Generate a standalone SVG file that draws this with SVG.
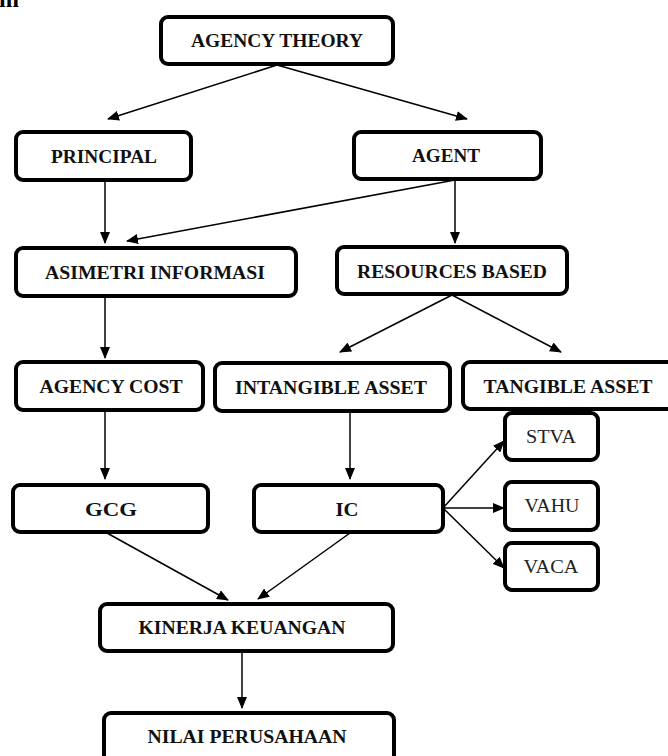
<svg xmlns="http://www.w3.org/2000/svg" width="668" height="756" viewBox="0 0 668 756">
<defs>
<style>
.box{fill:#fff;stroke:#000;stroke-width:4}
.t{font-family:"Liberation Serif","Times New Roman",serif;font-weight:bold;font-size:19px;fill:#111;text-anchor:middle}
.r{font-family:"Liberation Serif","Times New Roman",serif;font-size:18px;fill:#222;text-anchor:middle}
.c{stroke:#000;stroke-width:1.5;fill:none;marker-end:url(#ah)}
</style>
<marker id="ah" markerUnits="userSpaceOnUse" markerWidth="12" markerHeight="10" refX="11" refY="5" orient="auto">
<path d="M0,0 L12,5 L0,10 Z" fill="#000"/>
</marker>
</defs>
<rect width="668" height="756" fill="#fff"/>
<text x="-1" y="7" font-family="Liberation Serif,serif" font-weight="bold" font-size="24" fill="#000">m</text>
<g id="connectors">
<line class="c" x1="277" y1="65" x2="108" y2="119"/>
<line class="c" x1="277" y1="65" x2="467" y2="119"/>
<line class="c" x1="105" y1="180" x2="105" y2="243"/>
<line class="c" x1="455" y1="180" x2="127" y2="241"/>
<line class="c" x1="455" y1="180" x2="455" y2="243"/>
<line class="c" x1="452" y1="295" x2="340" y2="352"/>
<line class="c" x1="452" y1="295" x2="561" y2="352"/>
<line class="c" x1="105" y1="297" x2="105" y2="358"/>
<line class="c" x1="105" y1="411" x2="105" y2="479"/>
<line class="c" x1="350" y1="412" x2="350" y2="479"/>
<line class="c" x1="443" y1="508" x2="504" y2="441"/>
<line class="c" x1="443" y1="508" x2="504" y2="508"/>
<line class="c" x1="443" y1="508" x2="504" y2="568"/>
<line class="c" x1="107" y1="533" x2="228" y2="600"/>
<line class="c" x1="350" y1="533" x2="258" y2="599"/>
<line class="c" x1="242" y1="652" x2="242" y2="708"/>
</g>
<g id="agency-theory"><rect class="box" x="161" y="17" width="232" height="47" rx="7"/><text class="t" x="277" y="47" textLength="172" lengthAdjust="spacingAndGlyphs">AGENCY THEORY</text></g>
<g id="principal"><rect class="box" x="16" y="132" width="175" height="48" rx="7"/><text class="t" x="104" y="163" textLength="106" lengthAdjust="spacingAndGlyphs">PRINCIPAL</text></g>
<g id="agent"><rect class="box" x="354" y="132" width="187" height="47" rx="7"/><text class="t" x="446" y="162" textLength="68" lengthAdjust="spacingAndGlyphs">AGENT</text></g>
<g id="asimetri"><rect class="box" x="16" y="248" width="280" height="48" rx="7"/><text class="t" x="155" y="279" textLength="220" lengthAdjust="spacingAndGlyphs">ASIMETRI INFORMASI</text></g>
<g id="resources"><rect class="box" x="337" y="247" width="230" height="47" rx="7"/><text class="t" x="452" y="278" textLength="190" lengthAdjust="spacingAndGlyphs">RESOURCES BASED</text></g>
<g id="agency-cost"><rect class="box" x="16" y="362" width="187" height="48" rx="7"/><text class="t" x="111" y="393" textLength="143" lengthAdjust="spacingAndGlyphs">AGENCY COST</text></g>
<g id="intangible"><rect class="box" x="215" y="363" width="235" height="48" rx="7"/><text class="t" x="331" y="394" textLength="192" lengthAdjust="spacingAndGlyphs">INTANGIBLE ASSET</text></g>
<g id="tangible"><rect class="box" x="463" y="362" width="215" height="47" rx="7"/><text class="t" x="568" y="393" textLength="169" lengthAdjust="spacingAndGlyphs">TANGIBLE ASSET</text></g>
<g id="gcg"><rect class="box" x="13" y="485" width="195" height="47" rx="7"/><text class="t" x="111" y="516" textLength="52" lengthAdjust="spacingAndGlyphs">GCG</text></g>
<g id="ic"><rect class="box" x="254" y="485" width="189" height="47" rx="7"/><text class="t" x="347" y="516" textLength="23" lengthAdjust="spacingAndGlyphs">IC</text></g>
<g id="stva"><rect class="box" x="505" y="413" width="93" height="47" rx="7"/><text class="r" x="551" y="443" textLength="50" lengthAdjust="spacingAndGlyphs">STVA</text></g>
<g id="vahu"><rect class="box" x="505" y="482" width="93" height="48" rx="7"/><text class="r" x="552" y="512" textLength="55" lengthAdjust="spacingAndGlyphs">VAHU</text></g>
<g id="vaca"><rect class="box" x="505" y="543" width="93" height="47" rx="7"/><text class="r" x="551" y="573" textLength="55" lengthAdjust="spacingAndGlyphs">VACA</text></g>
<g id="kinerja"><rect class="box" x="100" y="604" width="293" height="47" rx="7"/><text class="t" x="242" y="634" textLength="207" lengthAdjust="spacingAndGlyphs">KINERJA KEUANGAN</text></g>
<g id="nilai"><rect class="box" x="104" y="713" width="290" height="50" rx="7"/><text class="t" x="247" y="743" textLength="199" lengthAdjust="spacingAndGlyphs">NILAI PERUSAHAAN</text></g>
</svg>
